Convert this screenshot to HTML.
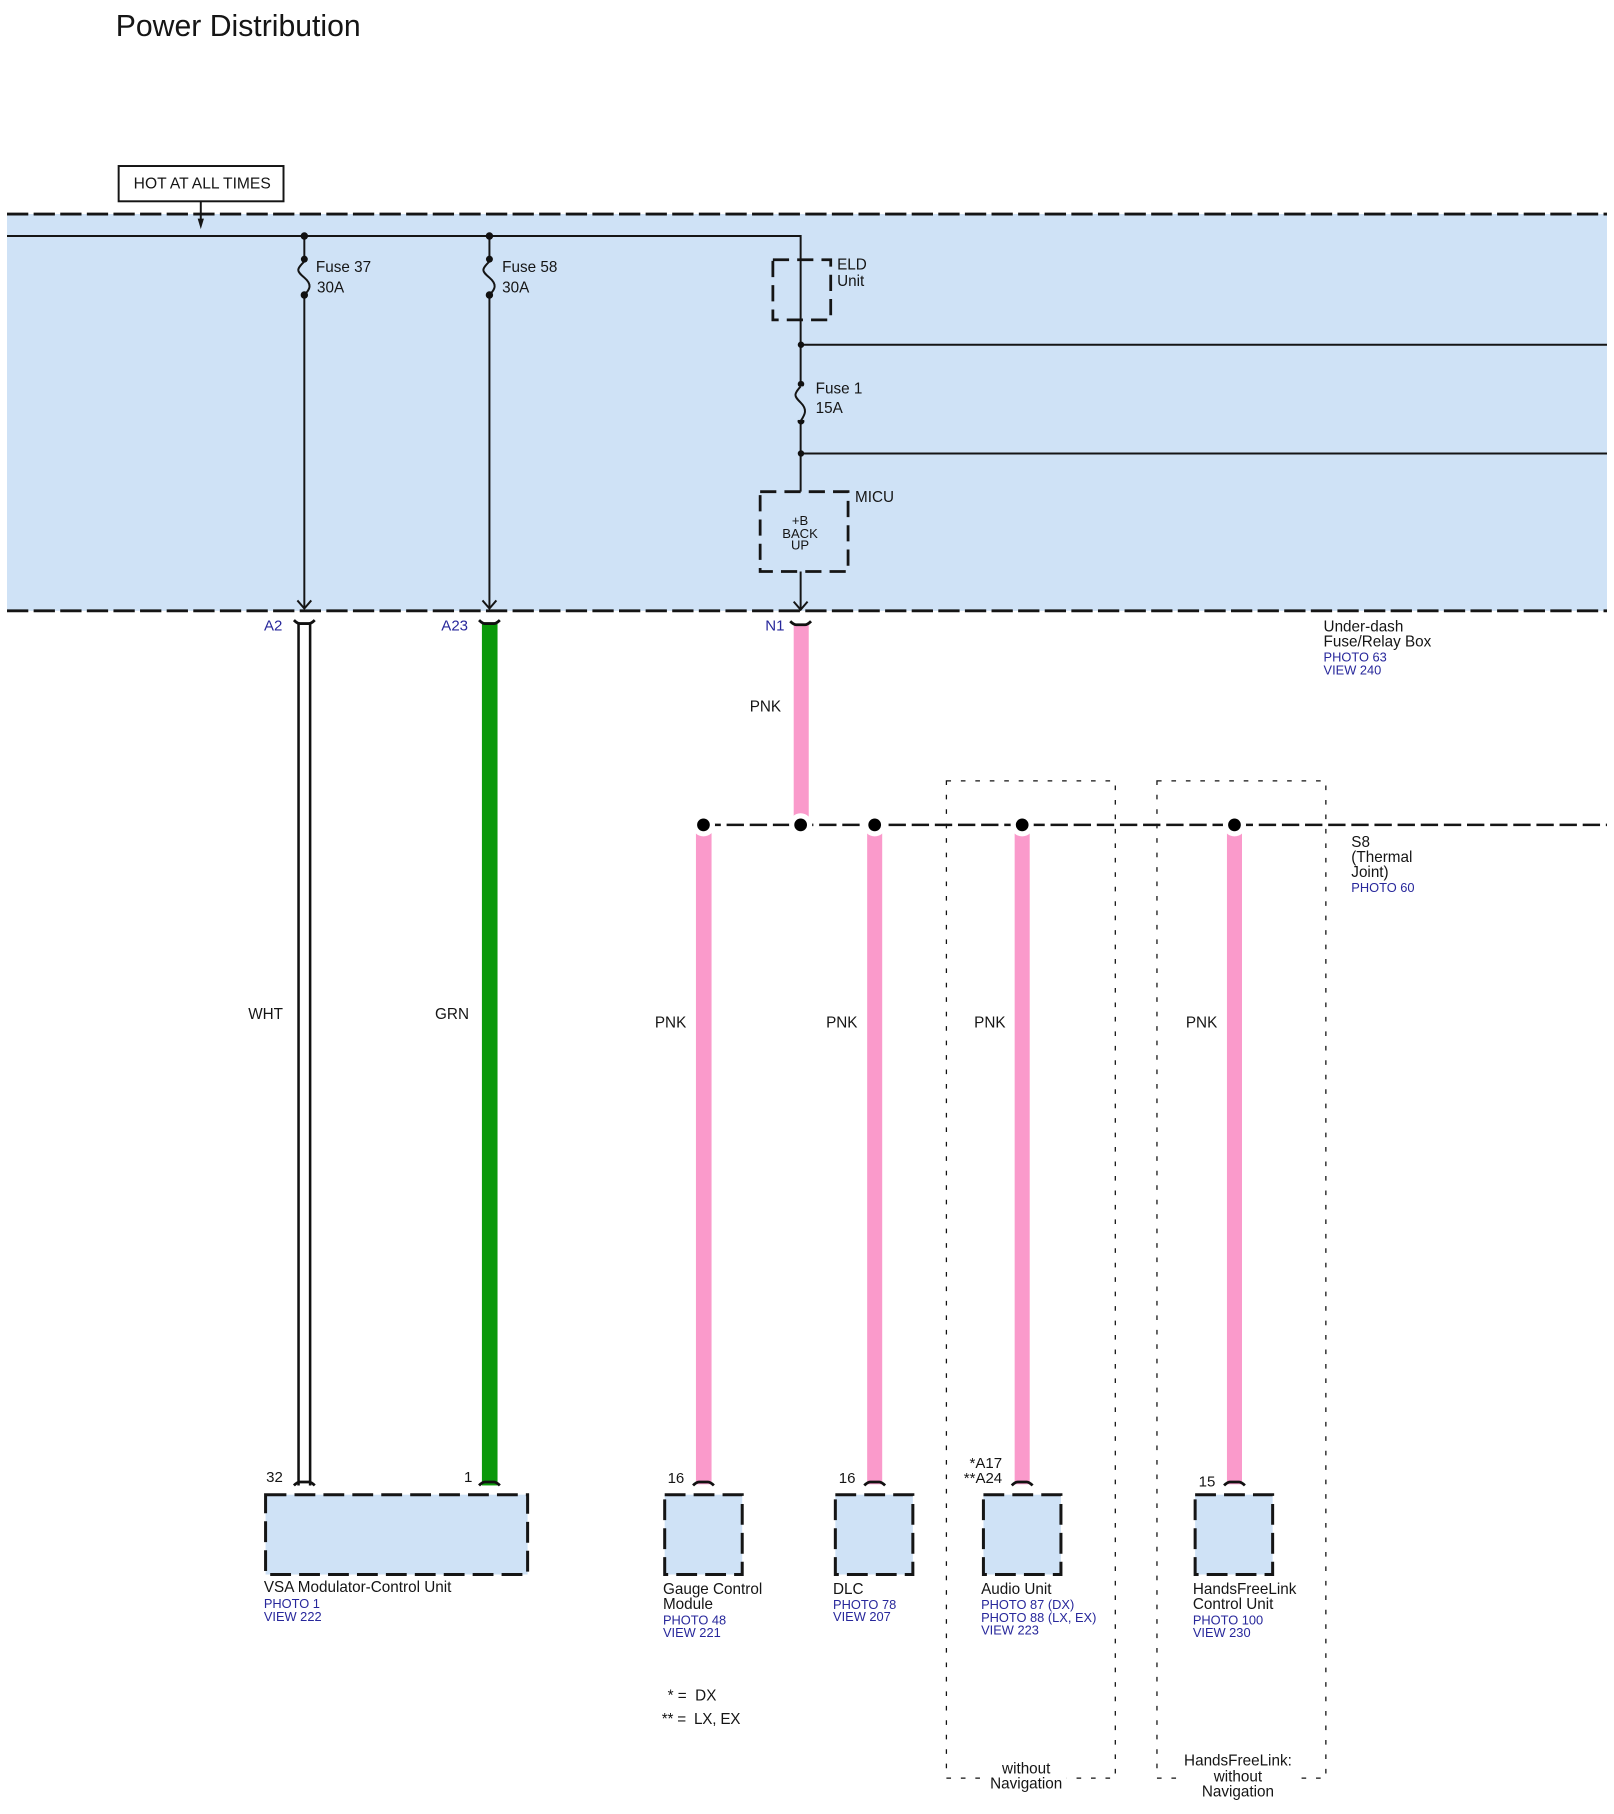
<!DOCTYPE html>
<html><head><meta charset="utf-8"><title>Power Distribution</title>
<style>
html,body{margin:0;padding:0;background:#fff}
svg{display:block}
text{font-family:"Liberation Sans",sans-serif;font-size:13.2px;fill:#151515}
.b{fill:#27279b;font-size:11.1px}
.d{fill:none;stroke:#151515;stroke-width:2.5;stroke-dasharray:18.4 4.6}
.t{fill:#cfe2f6;stroke:#151515;stroke-width:2.6;stroke-dasharray:18 7}
.w{fill:none;stroke:#151515;stroke-width:1.7}
.p{fill:#fa9acb}
.c{fill:none;stroke:#111;stroke-width:2.4}
.o{fill:none;stroke:#111;stroke-width:1.1;stroke-dasharray:4 8.500}
.n{font-size:13px}
</style></head><body>
<svg xmlns="http://www.w3.org/2000/svg" width="1614" height="1814" viewBox="0 0 1395 1568">
<rect width="1395" height="1568" fill="#fff"/>
<text x="100" y="31" style="font-size:26.1px">Power Distribution</text>

<rect x="6" y="185" width="1383" height="343" fill="#cfe2f6"/>
<line x1="6" y1="185" x2="1389" y2="185" class="d"/>
<line x1="6" y1="528" x2="1389" y2="528" class="d"/>

<rect x="102.500" y="143.500" width="142.500" height="30.500" fill="#fff" stroke="#151515" stroke-width="1.7"/>
<text x="115.500" y="163" style="font-size:13.500px">HOT AT ALL TIMES</text>
<line x1="173.500" y1="174" x2="173.500" y2="190" class="w"/>
<polygon points="170.800,189 176.200,189 173.500,198" fill="#151515"/>

<polyline points="6,204 692,204 692,425" class="w"/>
<line x1="692" y1="298" x2="1389" y2="298" class="w"/>
<line x1="692" y1="392" x2="1389" y2="392" class="w"/>

<line x1="263" y1="204" x2="263" y2="226" class="w"/>
<path d="M263 226c-7 7-7 8 0 14s5 10 0 15" class="w"/>
<line x1="263" y1="255" x2="263" y2="526" class="w"/>
<polyline points="257,519 263,526 269,519" class="w"/>
<circle cx="263" cy="204" r="3.200" fill="#111"/><circle cx="263" cy="224" r="3" fill="#111"/><circle cx="263" cy="255" r="3.200" fill="#111"/>
<text x="273" y="235">Fuse 37</text><text x="274" y="253">30A</text>

<line x1="423" y1="204" x2="423" y2="226" class="w"/>
<path d="M423 226c-7 7-7 8 0 14s5 10 0 15" class="w"/>
<line x1="423" y1="255" x2="423" y2="526" class="w"/>
<polyline points="417,519 423,526 429,519" class="w"/>
<circle cx="423" cy="204" r="3.200" fill="#111"/><circle cx="423" cy="224" r="3" fill="#111"/><circle cx="423" cy="255" r="3.200" fill="#111"/>
<text x="434" y="235">Fuse 58</text><text x="434" y="253">30A</text>

<rect x="668" y="224.500" width="50" height="52" fill="none" stroke="#151515" stroke-width="2.400" stroke-dasharray="14 7"/>
<text x="723.500" y="233">ELD</text><text x="723.500" y="247">Unit</text>

<circle cx="692.300" cy="298" r="2.800" fill="#111"/><circle cx="692.300" cy="332" r="2.800" fill="#111"/><circle cx="692.300" cy="364" r="3" fill="#111"/><circle cx="692.300" cy="392" r="2.800" fill="#111"/>
<rect x="689" y="334" width="6" height="29" fill="#cfe2f6"/>
<path d="M692 334c-6 7-6 8 0 14s4 10 0 16" class="w"/>
<text x="705" y="340">Fuse 1</text><text x="705" y="357">15A</text>

<rect x="657" y="425" width="76" height="69" fill="none" stroke="#151515" stroke-width="2.400" stroke-dasharray="14 7"/>
<text x="739" y="434">MICU</text>
<g style="text-anchor:middle"><text x="691.500" y="454" style="font-size:11.300px">+B</text><text x="691.500" y="465" style="font-size:11.300px">BACK</text><text x="691.500" y="475" style="font-size:11.300px">UP</text></g>
<line x1="692" y1="494" x2="692" y2="527" class="w"/>
<polyline points="686,520 692,527 698,520" class="w"/>

<!-- WHT wire -->
<line x1="258" y1="538" x2="258" y2="1284" stroke="#111" stroke-width="2.200"/>
<line x1="268" y1="538" x2="268" y2="1284" stroke="#111" stroke-width="2.200"/>
<path d="M254 536q3 3 5 3h8q2 0 5-3" class="c"/>
<path d="M254 1284q3-3 5-3h8q2 0 5 3" class="c"/>
<text x="244" y="545" class="b" style="text-anchor:end;font-size:13px">A2</text>
<text x="214.500" y="881">WHT</text>
<text x="230" y="1281" class="n">32</text>

<!-- GRN wire -->
<rect x="416.500" y="538" width="13.500" height="746" fill="#0b990b"/>
<path d="M414 536q3 3 5 3h8q2 0 5-3" class="c"/>
<path d="M414 1284q3-3 5-3h8q2 0 5 3" class="c"/>
<text x="404.500" y="545" class="b" style="text-anchor:end;font-size:13px">A23</text>
<text x="376" y="881">GRN</text>
<text x="401" y="1281" class="n">1</text>

<!-- PNK N1 -->
<rect x="686" y="540" width="13" height="167" class="p"/>
<path d="M683 537q3 3 5 3h8q2 0 5-3" class="c"/>
<text x="678" y="545" class="b" style="text-anchor:end;font-size:13px">N1</text>
<text x="648" y="615">PNK</text>

<!-- dotted groups -->
<rect x="818" y="675" width="146" height="862" class="o"/>
<rect x="1000" y="675" width="146" height="862" class="o"/>

<!-- splice -->
<line x1="608" y1="713" x2="1389" y2="713" class="d" style="stroke-dasharray:15 5;stroke-width:2.200"/>
<rect x="601.500" y="719" width="13.500" height="564" class="p"/>
<rect x="749.500" y="719" width="13" height="564" class="p"/>
<rect x="877" y="719" width="13" height="564" class="p"/>
<rect x="1060.500" y="719" width="13" height="564" class="p"/>
<circle cx="608" cy="713" r="10" fill="#fff"/><circle cx="692" cy="713" r="10" fill="#fff"/><circle cx="756" cy="713" r="10" fill="#fff"/><circle cx="883.500" cy="713" r="10" fill="#fff"/><circle cx="1067" cy="713" r="10" fill="#fff"/>
<circle cx="608" cy="713" r="5.500" fill="#000"/><circle cx="692" cy="713" r="5.500" fill="#000"/><circle cx="756" cy="713" r="5.500" fill="#000"/><circle cx="883.500" cy="713" r="5.500" fill="#000"/><circle cx="1067" cy="713" r="5.500" fill="#000"/>
<text x="1168" y="732">S8</text><text x="1168" y="745">(Thermal</text><text x="1168" y="758">Joint)</text><text x="1168" y="771" class="b">PHOTO 60</text>

<path d="M599 1284q3-3 5-3h8q2 0 5 3" class="c"/>
<path d="M747 1284q3-3 5-3h8q2 0 5 3" class="c"/>
<path d="M874.500 1284q3-3 5-3h8q2 0 5 3" class="c"/>
<path d="M1058 1284q3-3 5-3h8q2 0 5 3" class="c"/>
<text x="566" y="888">PNK</text><text x="714" y="888">PNK</text><text x="842" y="888">PNK</text><text x="1025" y="888">PNK</text>
<text x="577" y="1282" class="n">16</text>
<text x="725" y="1282" class="n">16</text>
<text x="838" y="1269" class="n">*A17</text>
<text x="833" y="1282" class="n">**A24</text>
<text x="1036" y="1285" class="n">15</text>

<!-- boxes -->
<rect x="229.500" y="1292" width="226.500" height="69" class="t"/>
<rect x="574.500" y="1292" width="67" height="69" class="t"/>
<rect x="722" y="1292" width="67" height="69" class="t"/>
<rect x="850" y="1292" width="67" height="69" class="t"/>
<rect x="1033" y="1292" width="67" height="69" class="t"/>

<!-- labels -->
<text x="228" y="1376">VSA Modulator-Control Unit</text>
<text x="228" y="1390" class="b">PHOTO 1</text><text x="228" y="1401" class="b">VIEW 222</text>
<text x="573" y="1378">Gauge Control</text><text x="573" y="1391">Module</text>
<text x="573" y="1404" class="b">PHOTO 48</text><text x="573" y="1415" class="b">VIEW 221</text>
<text x="720" y="1378">DLC</text>
<text x="720" y="1391" class="b">PHOTO 78</text><text x="720" y="1401" class="b">VIEW 207</text>
<text x="848" y="1378">Audio Unit</text>
<text x="848" y="1391" class="b">PHOTO 87 (DX)</text><text x="848" y="1402" class="b">PHOTO 88 (LX, EX)</text><text x="848" y="1413" class="b">VIEW 223</text>
<text x="1031" y="1378">HandsFreeLink</text><text x="1031" y="1391">Control Unit</text>
<text x="1031" y="1404" class="b">PHOTO 100</text><text x="1031" y="1415" class="b">VIEW 230</text>

<text x="577" y="1470">* =&nbsp; DX</text>
<text x="572" y="1490" textLength="68">** =&nbsp; LX, EX</text>

<rect x="852" y="1522" width="70" height="30" fill="#fff"/>
<text x="887" y="1533" style="text-anchor:middle">without</text><text x="887" y="1546" style="text-anchor:middle">Navigation</text>
<rect x="1022" y="1515" width="96" height="40" fill="#fff"/>
<text x="1070" y="1526" style="text-anchor:middle">HandsFreeLink:</text><text x="1070" y="1540" style="text-anchor:middle">without</text><text x="1070" y="1553" style="text-anchor:middle">Navigation</text>

<text x="1144" y="546">Under-dash</text><text x="1144" y="559">Fuse/Relay Box</text>
<text x="1144" y="572" class="b">PHOTO 63</text><text x="1144" y="583" class="b">VIEW 240</text>
</svg>
</body></html>
